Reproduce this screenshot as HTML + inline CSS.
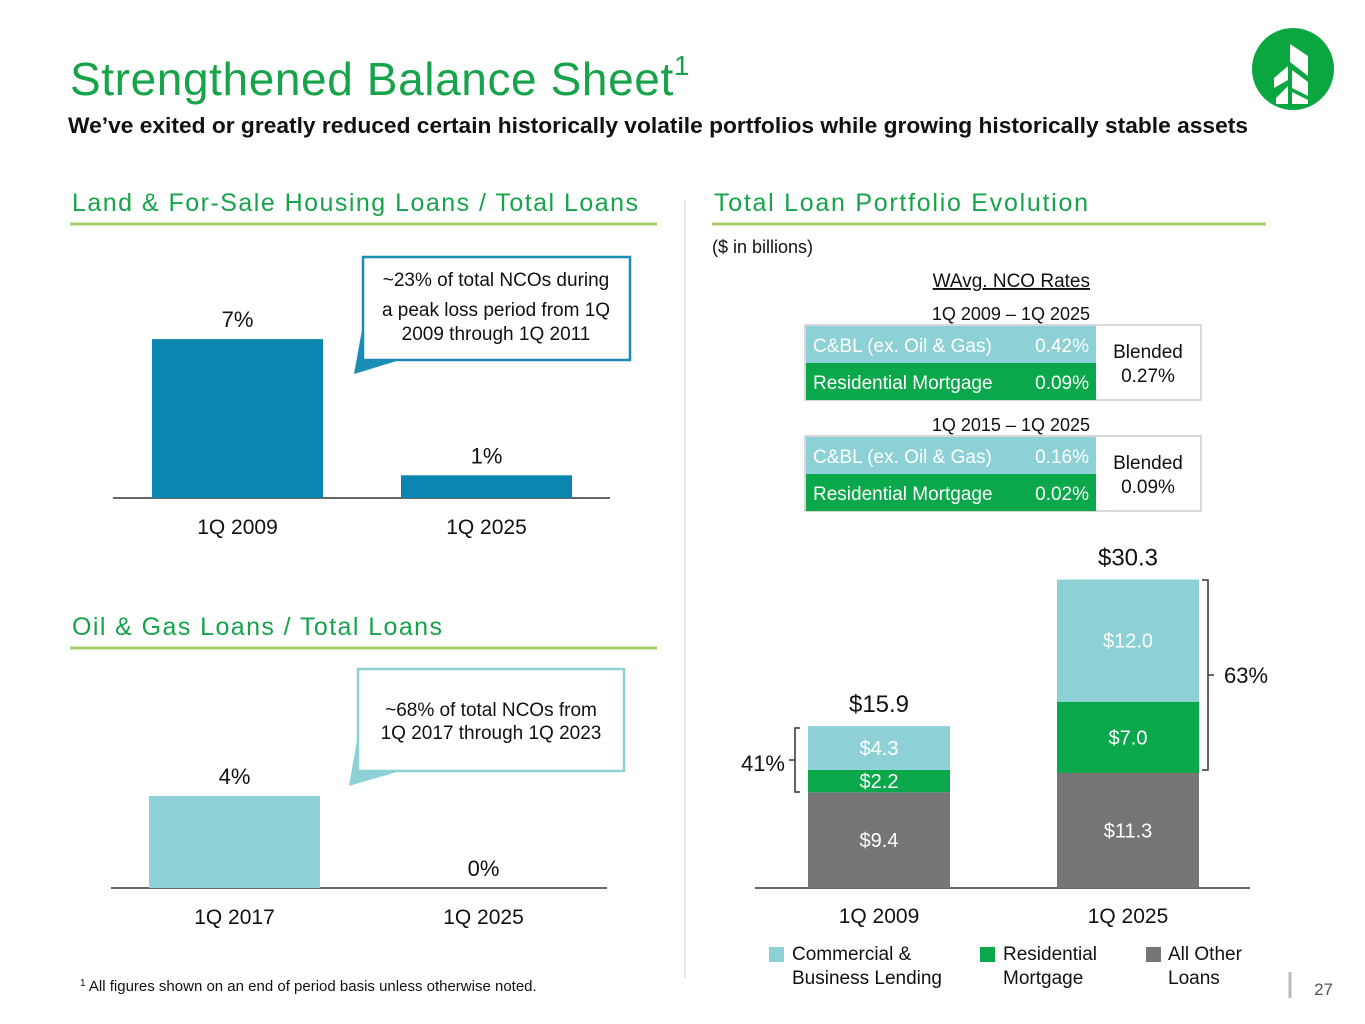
<!DOCTYPE html>
<html><head><meta charset="utf-8"><style>
body{margin:0;background:#fff;font-family:"Liberation Sans",sans-serif}
svg{display:block}
text{font-family:"Liberation Sans",sans-serif}
</style></head><body>
<svg id="s" width="1365" height="1024" viewBox="0 0 1365 1024">
<text x="70" y="95" font-size="46" fill="#16a34a" letter-spacing="0.6">Strengthened Balance Sheet<tspan font-size="28" dy="-20">1</tspan></text>
<text x="68" y="133" font-size="22.5" font-weight="bold" fill="#111" textLength="1180" lengthAdjust="spacingAndGlyphs">We’ve exited or greatly reduced certain historically volatile portfolios while growing historically stable assets</text>
<g>
<circle cx="1293" cy="69" r="41" fill="#0aa640"/>
<path d="M1290 44 L1308 56 L1308 76 L1290 62 Z M1288 66 L1274 78 L1274 88 L1288 80 Z M1292 70 L1308 82 L1308 96 L1292 88 Z M1288 86 L1276 98 L1276 104 L1288 104 Z M1292 92 L1308 100 L1308 104 L1292 104 Z" fill="#fff"/>
</g>
<line x1="685" y1="200" x2="685" y2="978" stroke="#ddd" stroke-width="1.5"/>
<text x="72" y="211" font-size="25" fill="#16a34a" textLength="566" lengthAdjust="spacing">Land &amp; For-Sale Housing Loans / Total Loans</text>
<line x1="70" y1="224" x2="657" y2="224" stroke="#a6cf6b" stroke-width="3"/>
<text x="72" y="635" font-size="25" fill="#16a34a" textLength="370" lengthAdjust="spacing">Oil &amp; Gas Loans / Total Loans</text>
<line x1="70" y1="648" x2="657" y2="648" stroke="#a6cf6b" stroke-width="3"/>
<text x="714" y="211" font-size="25" fill="#16a34a" textLength="374" lengthAdjust="spacing">Total Loan Portfolio Evolution</text>
<line x1="712" y1="224" x2="1266" y2="224" stroke="#a6cf6b" stroke-width="3"/>
<text x="712" y="253" font-size="18" fill="#111">($ in billions)</text>
<text x="1090" y="287" font-size="19" fill="#111" text-anchor="end" text-decoration="underline">WAvg. NCO Rates</text>
<g id="tables"></g>
<g id="charts"></g>
<g>
<path d="M362 330 L354 374 L400 360 Z" fill="#1a8db5"/>
<rect x="363" y="257" width="267" height="103" fill="#fff" stroke="#1a8db5" stroke-width="2.5"/>
<text font-size="19" fill="#111" text-anchor="middle"><tspan x="496" y="286">~23% of total NCOs during</tspan><tspan x="496" y="316">a peak loss period from 1Q</tspan><tspan x="496" y="340">2009 through 1Q 2011</tspan></text>
</g>
<g>
<path d="M357 740 L349 786 L400 771 Z" fill="#8dd1d7"/>
<rect x="358" y="669" width="266" height="102" fill="#fff" stroke="#8dd1d7" stroke-width="2.5"/>
<text font-size="19" fill="#111" text-anchor="middle"><tspan x="491" y="716">~68% of total NCOs from</tspan><tspan x="491" y="739">1Q 2017 through 1Q 2023</tspan></text>
</g>
<g>
<path d="M800 728 L795 728 L795 792 L800 792 M795 760 L789 760" fill="none" stroke="#333" stroke-width="1.5"/>
<text x="785" y="771" font-size="22" fill="#111" text-anchor="end">41%</text>
</g>
<g>
<path d="M1202 580 L1208 580 L1208 770 L1202 770 M1208 675 L1214 675" fill="none" stroke="#333" stroke-width="1.5"/>
<text x="1224" y="683" font-size="22" fill="#111">63%</text>
</g>
<g font-size="19" fill="#111">
<rect x="769" y="947" width="15" height="15" fill="#8dd1d7"/><text x="792" y="960">Commercial &amp;</text><text x="792" y="984">Business Lending</text>
<rect x="980" y="947" width="15" height="15" fill="#0aa74b"/><text x="1003" y="960">Residential</text><text x="1003" y="984">Mortgage</text>
<rect x="1146" y="947" width="15" height="15" fill="#767676"/><text x="1168" y="960">All Other</text><text x="1168" y="984">Loans</text>
</g>
<text x="80" y="991" font-size="15" fill="#111"><tspan font-size="10" dy="-5">1</tspan><tspan dy="5"> All figures shown on an end of period basis unless otherwise noted.</tspan></text>
<line x1="1290" y1="972" x2="1290" y2="998" stroke="#bbb" stroke-width="3"/>
<text x="1333" y="995" font-size="17" fill="#555" text-anchor="end">27</text>
</svg>
<script>
const landCats=["1Q 2009","1Q 2025"];
const landVals=[7,1];
const oilCats=["1Q 2017","1Q 2025"];
const oilVals=[4,0];
const loanCats=["1Q 2009","1Q 2025"];
const otherVals=[9.4,11.3];
const resVals=[2.2,7.0];
const cblVals=[4.3,12.0];
const totals=[15.9,30.3];
const tblPeriods=["1Q 2009 – 1Q 2025","1Q 2015 – 1Q 2025"];
const cblRates=["0.42%","0.16%"];
const resRates=["0.09%","0.02%"];
const blended=["0.27%","0.09%"];

const NS="http://www.w3.org/2000/svg";
const C=document.getElementById('charts');
function el(t,a,p,txt){const e=document.createElementNS(NS,t);for(const k in a)e.setAttribute(k,a[k]);if(txt!==undefined)e.textContent=txt;(p||C).appendChild(e);return e;}

function pctChart(cats,vals,base,x0,x1,barX,barW,color,pxPer,name){
  el('line',{x1:x0,y1:base,x2:x1,y2:base,stroke:'#333','stroke-width':1.5});
  const y=v=>base-v*pxPer;
  cats.forEach((c,i)=>{
    const r=el('rect',{x:barX[i],y:y(vals[i]),width:barW,height:base-y(vals[i]),fill:color});
    
    
    const l=el('text',{x:barX[i]+barW/2,y:y(vals[i])-12,'font-size':22,fill:'#111','text-anchor':'middle'},null,vals[i]+'%');
    
    
    const t=el('text',{x:barX[i]+barW/2,y:base+36,'font-size':21,fill:'#111','text-anchor':'middle'},null,c);
    
    
  });
}
pctChart(landCats,landVals,498,113,610,[152,401],171,'#0a86b0',22.7,'land');
pctChart(oilCats,oilVals,888,111,607,[149,398],171,'#8dd1d7',23,'oil');

const base=888,k=10.18,bx=[808,1057],bw=142;
const yv=v=>base-v*k;
el('line',{x1:755,y1:base,x2:1250,y2:base,stroke:'#333','stroke-width':1.5});
loanCats.forEach((c,i)=>{
  const segs=[[otherVals[i],'#767676','other'],[resVals[i],'#0aa74b','residential'],[cblVals[i],'#8dd1d7','cbl']];
  let cum=0;
  segs.forEach(s=>{
    const r=el('rect',{x:bx[i],y:yv(cum+s[0]),width:bw,height:s[0]*k,fill:s[1]});
    
    
    const t=el('text',{x:bx[i]+bw/2,y:yv(cum+s[0]/2)+7,'font-size':20,fill:'#fff','text-anchor':'middle'},null,'$'+s[0].toFixed(1));
    
    
    cum+=s[0];
  });
  const tt=el('text',{x:bx[i]+bw/2,y:yv(totals[i])-14,'font-size':24,fill:'#111','text-anchor':'middle'},null,'$'+totals[i].toFixed(1));
  
  
  const cl=el('text',{x:bx[i]+bw/2,y:base+35,'font-size':21,fill:'#111','text-anchor':'middle'},null,c);
  
  
});

const T=document.getElementById('tables');
tblPeriods.forEach((p,i)=>{
  const y0=325+i*111;
  const h=el('text',{x:1090,y:y0-5,'font-size':18,fill:'#111','text-anchor':'end'},T,p);
  
  
  el('rect',{x:805,y:y0,width:396,height:75,fill:'#fff',stroke:'#ccc','stroke-width':1.5},T);
  const a=el('rect',{x:806,y:y0+1,width:290,height:37,fill:'#8dd1d7'},T);
  
  
  const b=el('rect',{x:806,y:y0+38,width:290,height:37,fill:'#0aa74b'},T);
  
  
  el('text',{x:813,y:y0+27,'font-size':19,fill:'#fff'},T,'C&BL (ex. Oil & Gas)');
  el('text',{x:1089,y:y0+27,'font-size':19,fill:'#fff','text-anchor':'end'},T,cblRates[i]);
  el('text',{x:813,y:y0+64,'font-size':19,fill:'#fff'},T,'Residential Mortgage');
  el('text',{x:1089,y:y0+64,'font-size':19,fill:'#fff','text-anchor':'end'},T,resRates[i]);
  el('text',{x:1148,y:y0+33,'font-size':19,fill:'#111','text-anchor':'middle'},T,'Blended');
  el('text',{x:1148,y:y0+57,'font-size':19,fill:'#111','text-anchor':'middle'},T,blended[i]);
});
</script>
</body></html>
